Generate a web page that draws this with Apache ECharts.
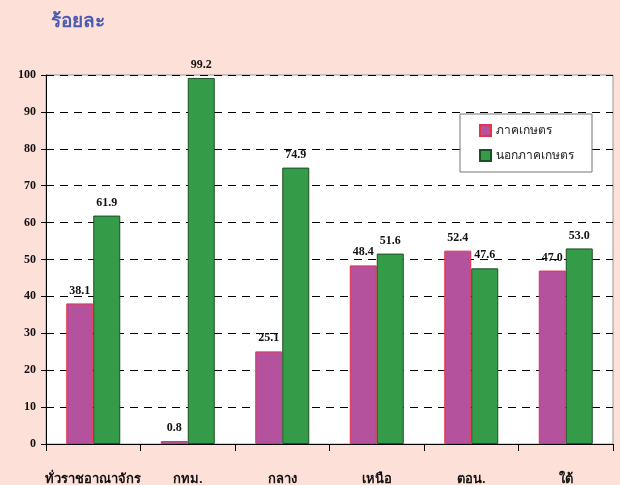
<!DOCTYPE html>
<html><head><meta charset="utf-8">
<script src="https://cdn.jsdelivr.net/npm/echarts@6/dist/echarts.min.js"></script>
<style>html,body{margin:0;padding:0;background:#FDE0D8;}#c{width:620px;height:485px;}</style>
</head><body><div id="c"></div>
<script>
const categories = ['ทั่วราชอาณาจักร','กทม.','กลาง','เหนือ','ตอน.','ใต้'];
const agri = [38.1, 0.8, 25.1, 48.4, 52.4, 47.0];
const nonAgri = [61.9, 99.2, 74.9, 51.6, 47.6, 53.0];
const seriesNames = ['ภาคเกษตร','นอกภาคเกษตร'];
const yTicks = {min:0, max:100, interval:10};

const chart = echarts.init(document.getElementById('c'), null, {renderer:'canvas'});
const labelStyle = {show:true, position:'top', distance:7, color:'#111', fontFamily:'Liberation Serif', fontWeight:'bold', fontSize:12, formatter: p => p.value.toFixed(1)};
chart.setOption({
  backgroundColor:'#FDE0D8',
  animation:false,
  title:{text:'ร้อยละ', left:46, top:8, textStyle:{color:'#4B5BB0', fontSize:19, fontWeight:'bold', fontFamily:'serif'}},
  grid:{left:46, right:7, top:75, bottom:41, outerBoundsMode:'none', show:true, backgroundColor:'#fff', borderColor:'#999', borderWidth:1},
  legend:{orient:'vertical', left:460, top:114, itemWidth:11, itemHeight:11, itemGap:12, icon:'rect',
    padding:[10,18,10,19], backgroundColor:'#fff', borderColor:'#777', borderWidth:1,
    textStyle:{fontSize:12, color:'#222', fontFamily:'sans-serif'},
    data:seriesNames},
  xAxis:{type:'category', data:categories,
    axisLine:{lineStyle:{color:'#000', width:1}},
    axisTick:{show:true, interval:0, alignWithLabel:false, length:7, lineStyle:{color:'#000'}},
    axisLabel:{interval:0, margin:29, color:'#111', fontSize:13, fontWeight:'bold', fontFamily:'serif'}},
  yAxis:{type:'value', min:yTicks.min, max:yTicks.max, interval:yTicks.interval,
    axisLine:{show:true, lineStyle:{color:'#000'}},
    axisTick:{show:true, length:5, lineStyle:{color:'#000'}},
    axisLabel:{margin:10, color:'#111', fontSize:12, fontWeight:'bold', fontFamily:'Liberation Serif'},
    splitLine:{show:true, lineStyle:{color:'#000', type:[8,6], width:1}}},
  series:[
    {name:seriesNames[0], type:'bar', data:agri, barWidth:27, barGap:'0%',
     itemStyle:{color:'#B5529E', borderColor:'#E8304A', borderWidth:1}, label:labelStyle},
    {name:seriesNames[1], type:'bar', data:nonAgri, barWidth:27,
     itemStyle:{color:'#349B48', borderColor:'#1C4F24', borderWidth:1}, label:labelStyle}
  ]
});
</script></body></html>
